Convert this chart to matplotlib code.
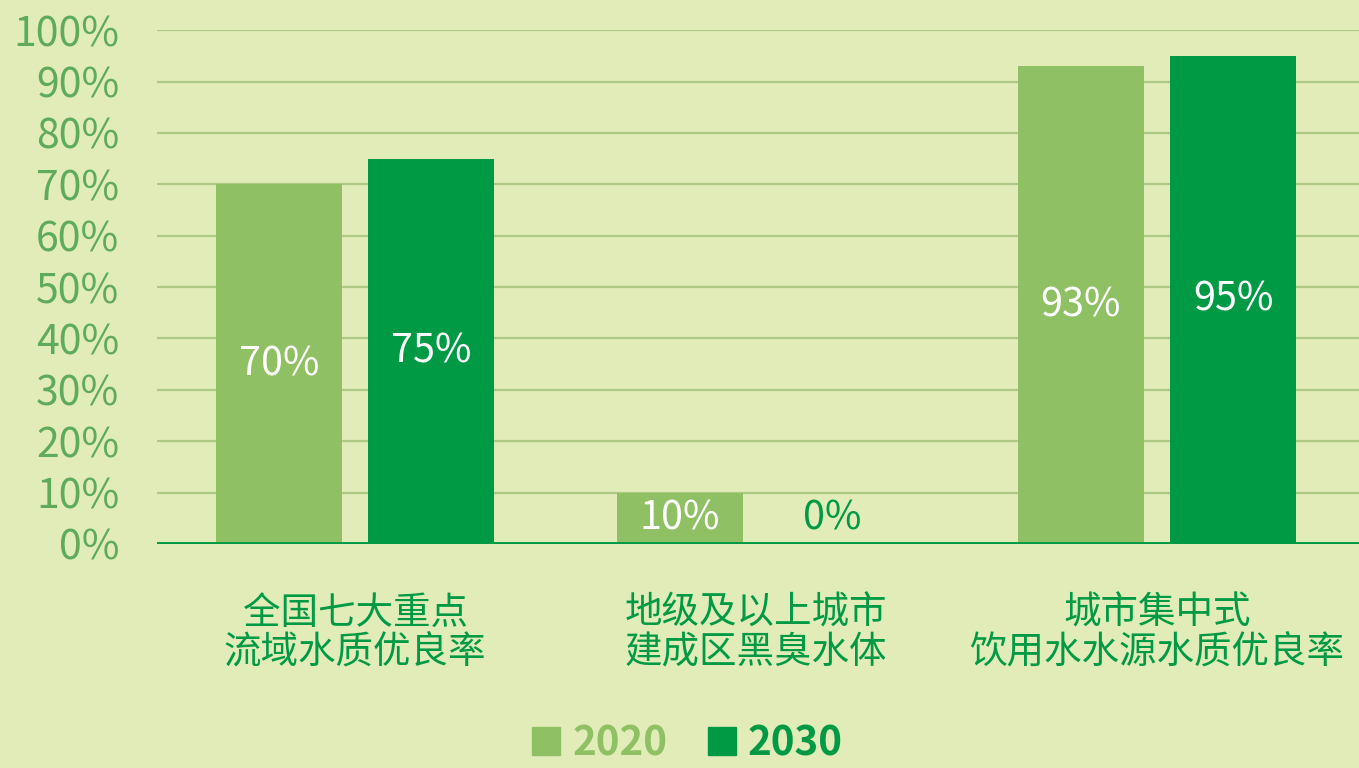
import matplotlib
matplotlib.use("Agg")
import matplotlib.pyplot as plt
from matplotlib.patches import Patch
import numpy as np

plt.rcParams['font.family'] = ['Noto Sans CJK SC', 'DejaVu Sans']

# data
categories = ["全国七大重点\n流域水质优良率", "地级及以上城市\n建成区黑臭水体", "城市集中式\n饮用水水源水质优良率"]
years = ["2020", "2030"]
values_2020 = [70, 10, 93]
values_2030 = [75, 0, 95]
labels_2020 = ["70%", "10%", "93%"]
labels_2030 = ["75%", "0%", "95%"]

bg = "#e2ecb9"
light = "#8fc063"
dark = "#009a44"
tick_col = "#5eab5c"
grid_col = "#adc983"

fig = plt.figure(figsize=(13.59, 7.68), dpi=100, facecolor=bg)
ax = fig.add_axes([0.1155, 0.2917, 0.8845, 0.669])
ax.set_facecolor(bg)

x = np.arange(len(categories))
w = 0.314
off = 0.19

b1 = ax.bar(x - off, values_2020, w, color=light, zorder=3)
b2 = ax.bar(x + off, values_2030, w, color=dark, zorder=3)

for rect, lab in zip(b1, labels_2020):
    h = rect.get_height()
    ax.text(rect.get_x() + rect.get_width() / 2, h / 2, lab, ha='center', va='center',
            color='white', fontsize=28.5, zorder=4)
for rect, lab in zip(b2, labels_2030):
    h = rect.get_height()
    c = 'white' if h > 0 else dark
    y = h / 2 if h > 0 else 5
    ax.text(rect.get_x() + rect.get_width() / 2, y, lab, ha='center', va='center',
            color=c, fontsize=28.5, zorder=4)

ax.set_xlim(-0.494, 2.504)
ax.set_ylim(0, 100)
ax.set_yticks(range(0, 101, 10))
ax.set_yticklabels([f"{v}%" for v in range(0, 101, 10)])
ax.tick_params(axis='y', length=0, labelsize=29.5, labelcolor=tick_col, pad=27)
ax.set_xticks(x)
ax.set_xticklabels(categories, fontsize=27, color=dark, linespacing=1.0)
ax.tick_params(axis='x', length=0, pad=36)

for v in range(10, 101, 10):
    ax.axhline(v, color=grid_col, lw=1.6, zorder=1)
ax.axhline(0, color=dark, lw=3.5, zorder=5)

for s in ax.spines.values():
    s.set_visible(False)

handles = [Patch(color=light, label=years[0]), Patch(color=dark, label=years[1])]
leg = fig.legend(handles=handles, loc='lower center', bbox_to_anchor=(0.506, -0.042), ncol=2,
                 frameon=False, handlelength=0.7, handleheight=0.7, handletextpad=0.3,
                 columnspacing=1.0, prop={'size': 29, 'weight': 'bold'})
for t, c in zip(leg.get_texts(), [light, dark]):
    t.set_color(c)

fig.savefig("out.png", dpi=100, facecolor=bg)
